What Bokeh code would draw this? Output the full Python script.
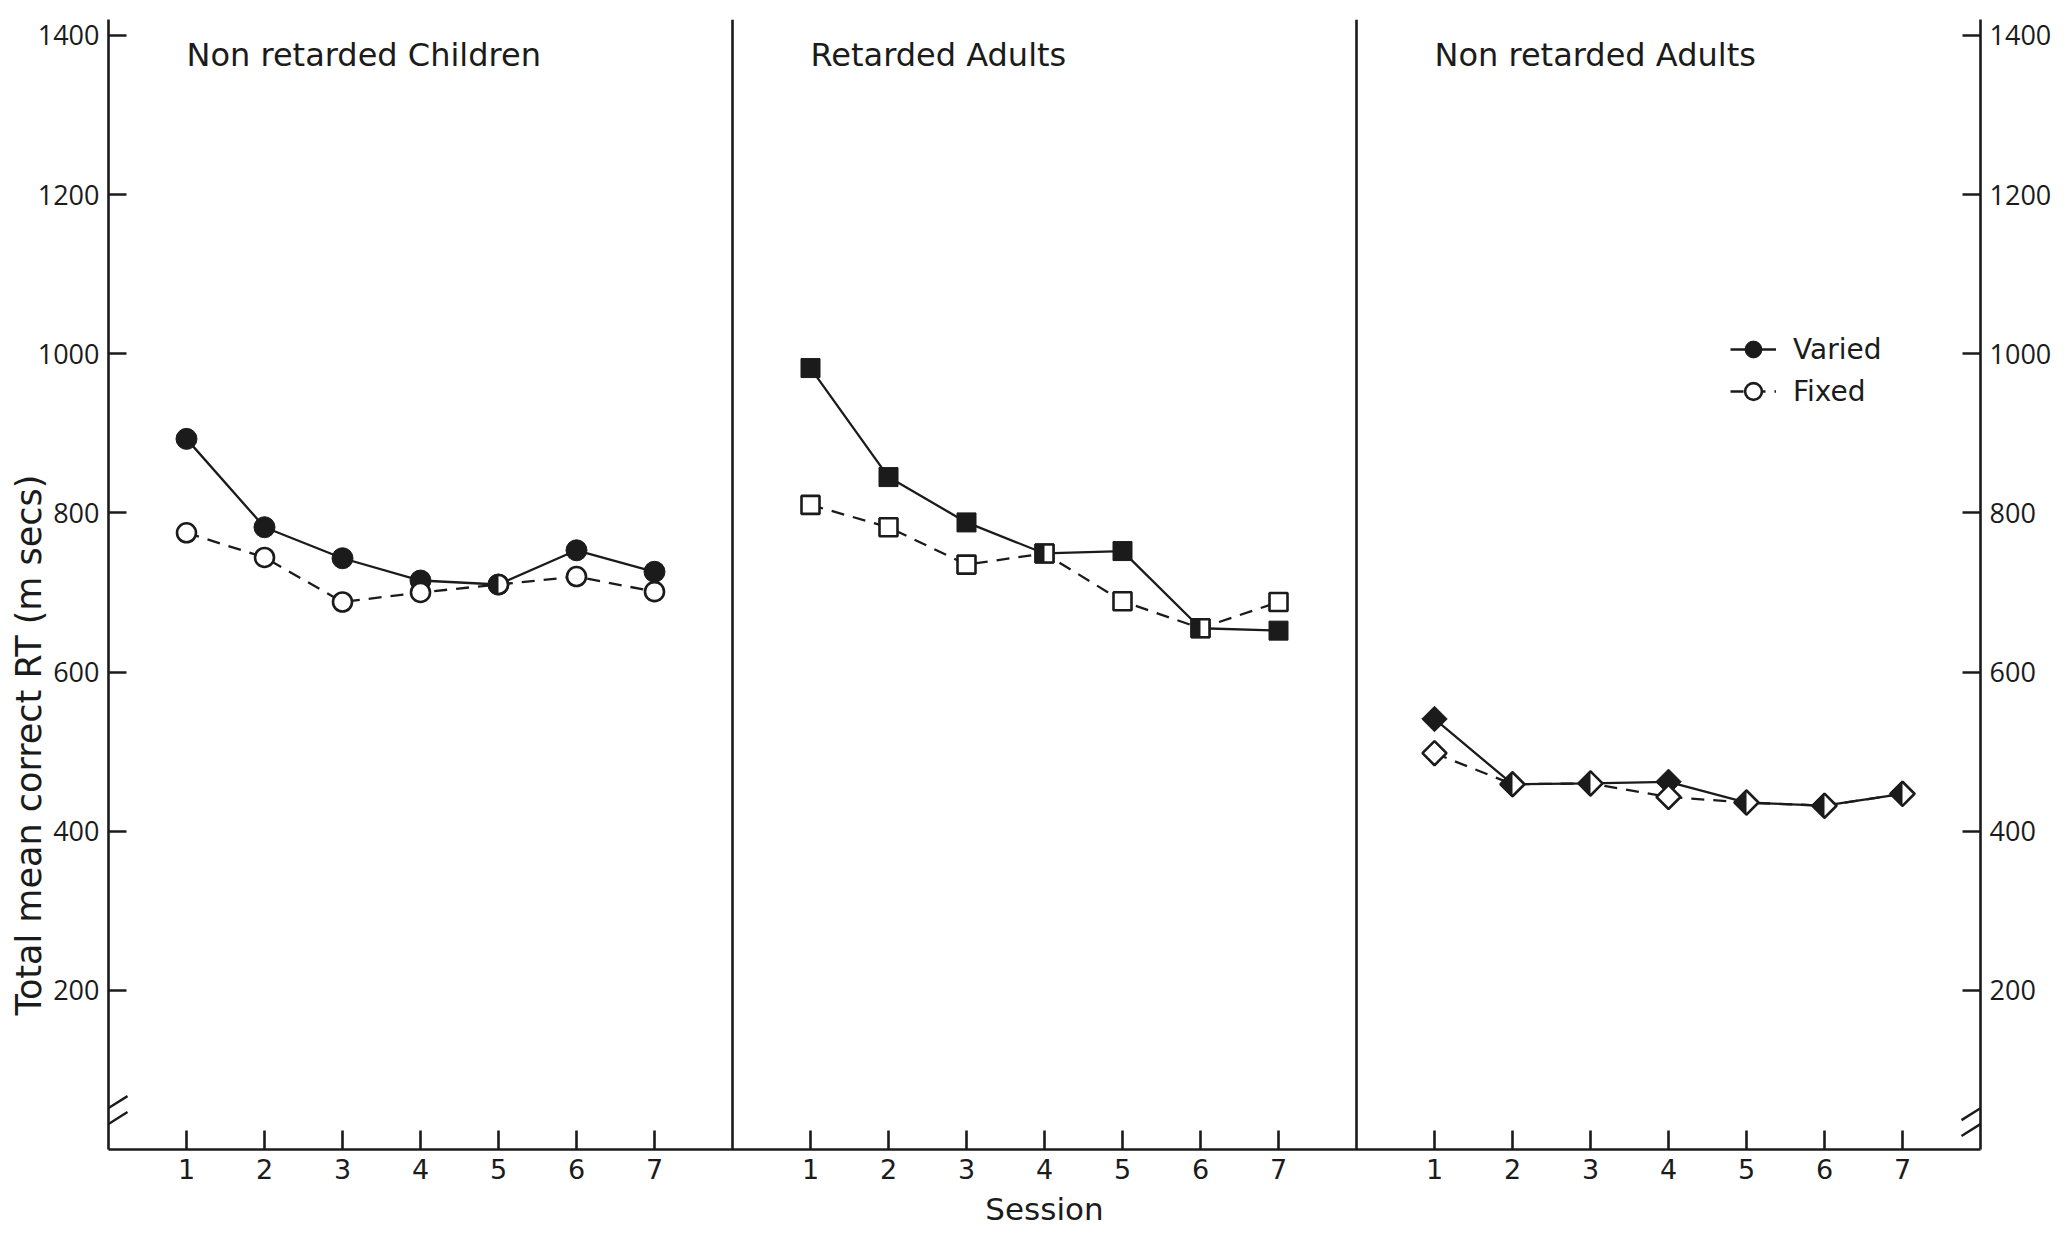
import math
from bokeh.plotting import figure
from bokeh.models import (Range1d, LinearAxis, FixedTicker, Span, Label, Legend,
                          LegendItem, CustomJSTickFormatter, Title)
from bokeh.embed import file_html
from bokeh.resources import INLINE

# Mean correct reaction time (ms) per session, for each group and condition
sessions = [1, 2, 3, 4, 5, 6, 7]
group_titles = ["Non   retarded Children", "Retarded  Adults", "Non  retarded  Adults"]
children_varied = [893, 782, 743, 715, 710, 753, 726]
children_fixed = [775, 744, 688, 700, 710, 720, 701]
ret_adults_varied = [982, 845, 788, 749, 752, 655, 652]
ret_adults_fixed = [810, 782, 735, 749, 689, 655, 688]
adults_varied = [541, 459, 460, 462, 436, 432, 447]
adults_fixed = [498, 459, 460, 443, 436, 432, 447]
y_ticks = [200, 400, 600, 800, 1000, 1200, 1400]

INK = "#1b1b1b"
TICK_FONT = "Open Sans"
TEXT_FONT = "DejaVu Sans"
W, H = 2072, 1234
BORDER_L, BORDER_R, BORDER_T, BORDER_B = 108, 92, 19, 85
PANEL_STEP = 8
X_MAX, Y_MAX = 3 * PANEL_STEP, 1420
SX = (W - BORDER_L - BORDER_R) / X_MAX   # px per x unit
SY = (H - BORDER_T - BORDER_B) / Y_MAX   # px per ms

p = figure(width=W, height=H, x_range=Range1d(0, X_MAX), y_range=Range1d(0, Y_MAX),
           output_backend="svg", toolbar_location=None,
           min_border_left=BORDER_L, min_border_right=BORDER_R,
           min_border_top=BORDER_T, min_border_bottom=BORDER_B,
           background_fill_color="white", border_fill_color="white")
p.outline_line_color = None
p.xgrid.visible = False
p.ygrid.visible = False


def style_axis(ax, tick_len, font, font_size, standoff):
    ax.axis_line_color = INK
    ax.axis_line_width = 2.6
    ax.major_tick_line_color = INK
    ax.major_tick_line_width = 2.6
    ax.minor_tick_line_color = None
    ax.major_tick_in = tick_len
    ax.major_tick_out = 0
    ax.major_label_text_font = font
    ax.major_label_text_color = INK
    ax.major_label_text_font_size = font_size
    ax.major_label_standoff = standoff


# y axes on both sides, ticks pointing inward
left = p.yaxis[0]
left.ticker = FixedTicker(ticks=y_ticks)
style_axis(left, 18, TICK_FONT, "27px", 9)
right = LinearAxis(ticker=FixedTicker(ticks=y_ticks))
style_axis(right, 18, TICK_FONT, "27px", 9)
p.add_layout(right, "right")

# y title sits outside the tick labels, starting a little above the axis break
p.add_layout(Title(text="Total mean correct RT (m secs)", align="left", offset=134,
                   standoff=-29, text_font=TEXT_FONT, text_font_size="35px",
                   text_font_style="normal", text_color=INK), "left")

# one continuous session axis, three panels of seven sessions
x_ticks = [k * PANEL_STEP + s for k in range(3) for s in sessions]
bottom = p.xaxis[0]
bottom.ticker = FixedTicker(ticks=x_ticks)
bottom.formatter = CustomJSTickFormatter(
    code="return String(((Math.round(tick) - 1) % 8) + 1);")
style_axis(bottom, 19, TEXT_FONT, "27px", 9)
bottom.axis_label = "Session"
bottom.axis_label_text_font = TEXT_FONT
bottom.axis_label_text_font_size = "31px"
bottom.axis_label_text_font_style = "normal"
bottom.axis_label_text_color = INK
bottom.axis_label_standoff = 9

for k in (1, 2):
    p.add_layout(Span(location=k * PANEL_STEP, dimension="height",
                      line_color=INK, line_width=2.6))

panels = [
    (children_varied, children_fixed, "circle"),
    (ret_adults_varied, ret_adults_fixed, "square"),
    (adults_varied, adults_fixed, "diamond"),
]

legend_renderers = None
for k, (varied, fixed, shape) in enumerate(panels):
    xs = [k * PANEL_STEP + s for s in sessions]
    lv = p.line(xs, varied, line_color=INK, line_width=2.3)
    lf = p.line(xs, fixed, line_color=INK, line_width=2.3, line_dash="13 9")
    if shape == "circle":
        mv = p.scatter(xs, varied, marker="circle", size=21, fill_color=INK, line_color=INK)
        mf = p.scatter(xs, fixed, marker="circle", size=19, fill_color="white",
                       line_color=INK, line_width=2.6)
    elif shape == "square":
        mv = p.scatter(xs, varied, marker="square", size=19, fill_color=INK, line_color=INK)
        mf = p.scatter(xs, fixed, marker="square", size=18, fill_color="white",
                       line_color=INK, line_width=2.6)
    else:
        mv = p.scatter(xs, varied, marker="square", angle=math.pi / 4, size=18,
                       fill_color=INK, line_color=INK)
        mf = p.scatter(xs, fixed, marker="square", angle=math.pi / 4, size=17,
                       fill_color="white", line_color=INK, line_width=2.6)
    if k == 0:
        legend_renderers = ((lv, mv), (lf, mf))

    # where both conditions coincide the marker is drawn half filled
    same = [i for i in range(len(sessions)) if varied[i] == fixed[i]]
    hx = [xs[i] for i in same]
    hy = [fixed[i] for i in same]
    if not same:
        continue
    if shape == "circle":
        p.wedge(hx, hy, radius=9.5, radius_units="screen",
                start_angle=math.pi / 2, end_angle=3 * math.pi / 2,
                fill_color=INK, line_color=None)
    elif shape == "square":
        p.quad(left=[x - 9 / SX for x in hx], right=hx,
               bottom=[y - 9 / SY for y in hy], top=[y + 9 / SY for y in hy],
               fill_color=INK, line_color=None)
    else:
        p.patches(xs=[[x, x - 12.5 / SX, x] for x in hx],
                  ys=[[y + 12.5 / SY, y, y - 12.5 / SY] for y in hy],
                  fill_color=INK, line_color=None)

# axis breaks near the origin
for xb in (0, X_MAX):
    for yb in (52, 32):
        p.segment(x0=[xb - 19 / SX], y0=[yb - 12 / SY], x1=[xb + 19 / SX], y1=[yb + 12 / SY],
                  line_color=INK, line_width=2.4)

for k, title in enumerate(group_titles):
    p.add_layout(Label(x=k * PANEL_STEP + 1, y=1376, text=title,
                       text_font=TEXT_FONT, text_font_size="32px", text_color=INK,
                       text_align="left", text_baseline="middle"))

(lv0, mv0), (lf0, mf0) = legend_renderers
legend = Legend(items=[LegendItem(label="Varied", renderers=[lv0, mv0]),
                       LegendItem(label="Fixed", renderers=[lf0, mf0])],
                location=(1730 - BORDER_L, H - BORDER_B - 412),
                glyph_width=46, glyph_height=42, label_height=42, spacing=0,
                padding=0, margin=0, label_standoff=17,
                label_text_font=TEXT_FONT, label_text_font_size="28px",
                label_text_color=INK, background_fill_alpha=0,
                border_line_alpha=0)
p.add_layout(legend)

open("out.html", "w").write(file_html(p, INLINE))
